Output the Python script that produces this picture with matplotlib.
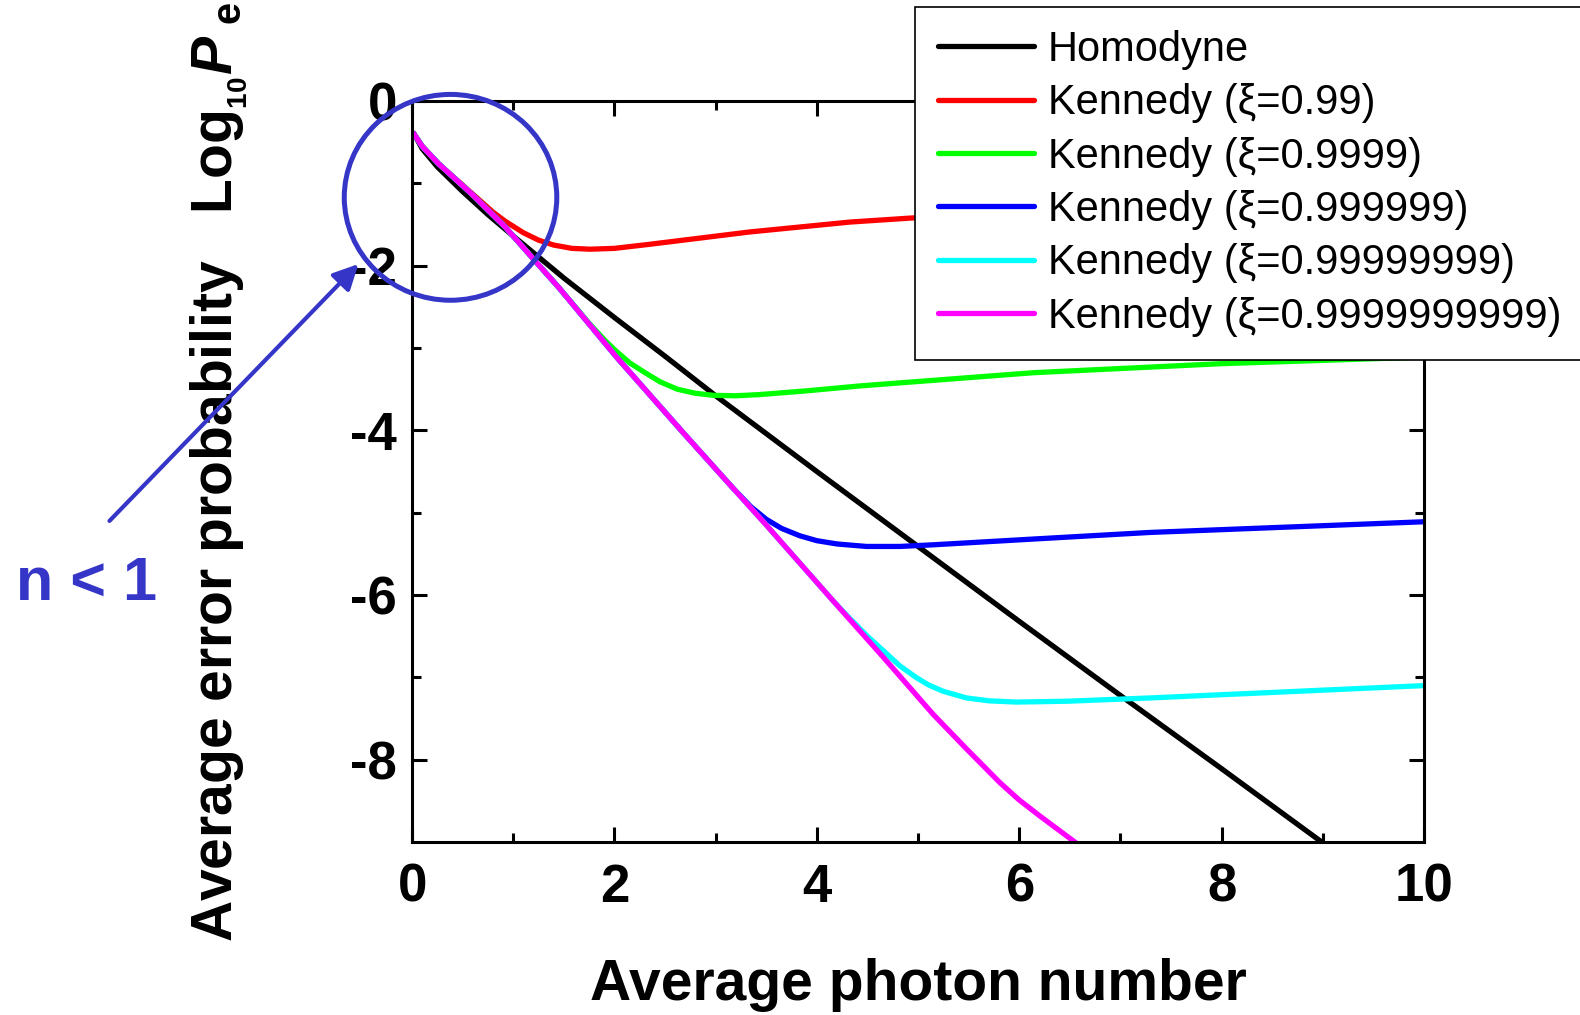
import matplotlib
matplotlib.use('Agg')
from matplotlib import pyplot as plt
from matplotlib.patches import Ellipse

# values (log10 of the error probability)
n_homodyne = [0.016, 0.1, 0.25, 0.5, 0.75, 1.0, 1.5, 2.0, 2.5, 3.0, 4.0, 5.0, 6.0, 7.0, 8.0, 9.0, 9.1]
pe_homodyne = [-0.39, -0.58, -0.80, -1.10, -1.38, -1.64, -2.15, -2.63, -3.10, -3.58, -4.50, -5.41, -6.32, -7.22, -8.11, -9.01, -9.10]

n_k99 = [0.016, 0.1, 0.26, 0.59, 0.8, 0.92, 1.1, 1.25, 1.4, 1.58, 1.76, 2.0, 2.35, 3.34, 4.33, 4.95, 6.0, 8.0, 10.0]
pe_k99 = [-0.395, -0.55, -0.76, -1.12, -1.35, -1.46, -1.60, -1.69, -1.75, -1.79, -1.80, -1.79, -1.74, -1.59, -1.47, -1.42, -1.34, -1.19, -1.06]

n_k4 = [0.016, 0.1, 0.26, 0.59, 0.92, 1.2, 1.46, 1.75, 1.9, 2.0, 2.15, 2.29, 2.45, 2.62, 2.8, 2.98, 3.2, 3.44, 3.9, 4.43, 6.14, 8.0, 10.0]
pe_k4 = [-0.395, -0.55, -0.76, -1.13, -1.53, -1.92, -2.28, -2.70, -2.90, -3.02, -3.18, -3.29, -3.41, -3.50, -3.55, -3.575, -3.58, -3.565, -3.52, -3.46, -3.30, -3.19, -3.11]

n_k6 = [0.016, 0.1, 0.26, 0.59, 0.92, 1.2, 1.46, 2.02, 2.68, 3.17, 3.35, 3.5, 3.65, 3.83, 4.0, 4.2, 4.49, 4.82, 5.15, 6.14, 7.29, 10.0]
pe_k6 = [-0.395, -0.55, -0.76, -1.13, -1.53, -1.92, -2.28, -3.11, -4.03, -4.70, -4.93, -5.08, -5.19, -5.28, -5.34, -5.38, -5.41, -5.41, -5.39, -5.32, -5.24, -5.11]

n_k8 = [0.016, 0.1, 0.26, 0.59, 0.92, 1.2, 1.46, 2.02, 2.68, 3.17, 3.5, 4.16, 4.33, 4.5, 4.66, 4.82, 4.98, 5.1, 5.25, 5.48, 5.7, 5.97, 6.47, 7.29, 10.0]
pe_k8 = [-0.395, -0.55, -0.76, -1.13, -1.53, -1.92, -2.28, -3.11, -4.03, -4.70, -5.15, -6.07, -6.29, -6.50, -6.68, -6.86, -7.00, -7.09, -7.17, -7.25, -7.285, -7.30, -7.29, -7.25, -7.10]

n_k10 = [0.016, 0.1, 0.26, 0.59, 0.92, 1.2, 1.46, 2.02, 2.68, 3.17, 3.5, 4.16, 4.66, 5.15, 5.48, 5.81, 6.0, 6.2, 6.56, 6.7]
pe_k10 = [-0.395, -0.55, -0.76, -1.13, -1.53, -1.92, -2.28, -3.11, -4.03, -4.70, -5.15, -6.07, -6.76, -7.45, -7.87, -8.28, -8.49, -8.68, -9.01, -9.13]

labels = ['Homodyne', 'Kennedy (\u03be=0.99)', 'Kennedy (\u03be=0.9999)', 'Kennedy (\u03be=0.999999)',
          'Kennedy (\u03be=0.99999999)', 'Kennedy (\u03be=0.9999999999)']
colors = ['black', '#ff0000', '#00ff00', '#0000ff', '#00ffff', '#ff00ff']
xs = [n_homodyne, n_k99, n_k4, n_k6, n_k8, n_k10]
ys = [pe_homodyne, pe_k99, pe_k4, pe_k6, pe_k8, pe_k10]

note_color = '#3535c8'

plt.rcParams['font.family'] = ['Liberation Sans', 'DejaVu Sans']
plt.rcParams['axes.unicode_minus'] = False
plt.rcParams['mathtext.fontset'] = 'custom'
plt.rcParams['mathtext.rm'] = 'Liberation Sans:bold'
plt.rcParams['mathtext.it'] = 'Liberation Sans:italic:bold'
plt.rcParams['mathtext.bf'] = 'Liberation Sans:bold'

fig = plt.figure(figsize=(15.8, 10.15), dpi=100)
ax = fig.add_axes([0.2608, 0.1704, 0.6405, 0.7301])

for x, y, c, lab in zip(xs, ys, colors, labels):
    ax.plot(x, y, color=c, lw=3.8, label=lab, solid_capstyle='round', solid_joinstyle='round')

ax.set_xlim(0, 10)
ax.set_ylim(-9, 0)
ax.set_xticks([0, 2, 4, 6, 8, 10])
ax.set_xticks([1, 3, 5, 7, 9], minor=True)
ax.set_yticks([0, -2, -4, -6, -8])
ax.set_yticks([-1, -3, -5, -7], minor=True)
ax.tick_params(which='both', direction='in', top=True, right=True, width=2.2, labelsize=38)
ax.tick_params(which='major', length=11)
ax.tick_params(which='minor', length=6.5)
ax.tick_params(axis='x', pad=15)
ax.tick_params(axis='y', pad=11)
for t in ax.get_xticklabels() + ax.get_yticklabels():
    t.set_fontweight('bold')
for s in ax.spines.values():
    s.set_linewidth(2.2)

ax.set_xlabel('Average photon number', fontsize=41, fontweight='bold')
ax.xaxis.set_label_coords(0.5, -0.1565)
ax.set_ylabel('Average error probability   Log$_{_{10}}$$P_{\\ \\mathrm{e}}$', fontsize=41, fontweight='bold')
ax.yaxis.set_label_coords(-0.161, 0.5)

leg = ax.legend(loc='upper left', bbox_to_anchor=(0.5791, 0.9931), bbox_transform=fig.transFigure,
                prop={'family': ['Liberation Sans', 'DejaVu Sans'], 'size': 30},
                fancybox=False, edgecolor='black', framealpha=1, borderpad=0.55,
                labelspacing=0.32, handlelength=2.3, handletextpad=0.34, borderaxespad=0)
leg.get_frame().set_linewidth(1.2)

# n < 1 annotation
ax.add_patch(Ellipse((0.38, -1.17), 2.10, 2.5, fill=False, edgecolor=note_color, lw=3.6,
                     clip_on=False, zorder=6))
ax.annotate('', xy=(-0.53, -1.98), xytext=(-2.99, -5.10),
            arrowprops=dict(arrowstyle='-|>', color=note_color, lw=3, mutation_scale=38,
                            shrinkA=0, shrinkB=0),
            annotation_clip=False)
ax.text(-3.22, -5.87, 'n < 1', color=note_color, fontsize=44, fontweight='bold',
        ha='center', va='center', clip_on=False)

fig.savefig('out.png', dpi=100)
